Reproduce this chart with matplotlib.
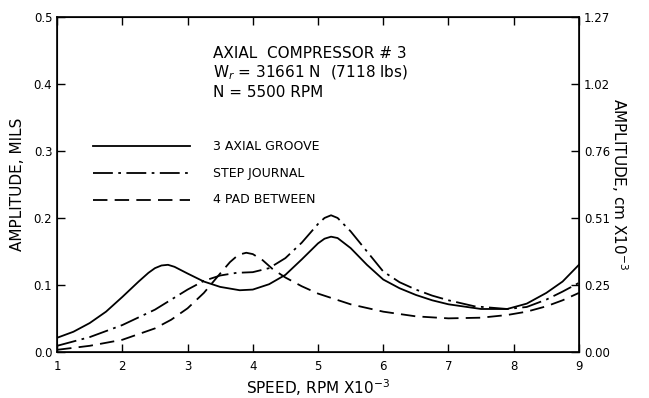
import matplotlib
matplotlib.use("Agg")
import matplotlib.pyplot as plt

plt.rcParams['font.family'] = ['DejaVu Sans']

# speed (RPM x 10^-3) and amplitude (mils)
groove_x = [1.0, 1.25, 1.5, 1.75, 2.0, 2.25, 2.4, 2.5, 2.6, 2.7, 2.8, 3.0, 3.25, 3.5,
            3.8, 4.0, 4.25, 4.5, 4.75, 5.0, 5.1, 5.2, 5.3, 5.5, 5.75, 6.0, 6.25, 6.5,
            6.75, 7.0, 7.5, 7.9, 8.2, 8.5, 8.75, 9.0]
groove_y = [0.021, 0.030, 0.043, 0.060, 0.082, 0.105, 0.118, 0.125, 0.129, 0.130, 0.127,
            0.117, 0.105, 0.097, 0.092, 0.093, 0.101, 0.115, 0.138, 0.162, 0.169, 0.172,
            0.170, 0.155, 0.130, 0.108, 0.095, 0.085, 0.077, 0.071, 0.064, 0.064, 0.072,
            0.088, 0.105, 0.130]

step_x = [1.0, 1.5, 2.0, 2.5, 2.75, 3.0, 3.25, 3.5, 3.75, 4.0, 4.25, 4.5, 4.75, 5.0,
          5.1, 5.2, 5.3, 5.5, 5.75, 6.0, 6.25, 6.5, 6.75, 7.0, 7.4, 7.9, 8.2, 8.5, 8.75,
          9.0]
step_y = [0.009, 0.022, 0.040, 0.063, 0.078, 0.093, 0.106, 0.114, 0.118, 0.119, 0.125,
          0.140, 0.163, 0.191, 0.200, 0.204, 0.200, 0.180, 0.150, 0.120, 0.104, 0.093,
          0.084, 0.077, 0.068, 0.064, 0.067, 0.078, 0.090, 0.103]

pad_x = [1.0, 1.5, 2.0, 2.5, 2.75, 3.0, 3.25, 3.5, 3.65, 3.78, 3.9, 4.0, 4.15, 4.3,
         4.5, 4.75, 5.0, 5.5, 6.0, 6.5, 7.0, 7.5, 7.9, 8.2, 8.5, 8.75, 9.0]
pad_y = [0.003, 0.009, 0.018, 0.035, 0.048, 0.065, 0.088, 0.117, 0.134, 0.145, 0.148,
         0.146, 0.137, 0.124, 0.111, 0.098, 0.087, 0.071, 0.060, 0.053, 0.050, 0.051,
         0.055, 0.060, 0.068, 0.077, 0.088]

left_ticks = [0.0, 0.1, 0.2, 0.3, 0.4, 0.5]
left_labels = ["0.0", "0.1", "0.2", "0.3", "0.4", "0.5"]
right_labels = ["0.00", "0.25", "0.51", "0.76", "1.02", "1.27"]
x_ticks = [1, 2, 3, 4, 5, 6, 7, 8, 9]

legend_names = ["3 AXIAL GROOVE", "STEP JOURNAL", "4 PAD BETWEEN"]

fig = plt.figure(figsize=(6.49, 3.98), dpi=100)
ax = fig.add_axes([0.088, 0.116, 0.804, 0.841])

dashdot = (0, (11, 3, 1.5, 3))
dashed = (0, (8, 4))
lw = 1.3
ax.plot(groove_x, groove_y, color="black", lw=lw, linestyle="-")
ax.plot(step_x, step_y, color="black", lw=lw, linestyle=dashdot)
ax.plot(pad_x, pad_y, color="black", lw=lw, linestyle=dashed)

ax.set_xlim(1, 9)
ax.set_ylim(0, 0.5)
ax.set_xticks(x_ticks)
ax.set_yticks(left_ticks)
ax.set_yticklabels(left_labels)
ax.tick_params(direction="in", length=6, width=1, labelsize=8.5, top=True)
ax.tick_params(axis="x", pad=6)
for s in ax.spines.values():
    s.set_linewidth(1.2)

ax2 = ax.twinx()
ax2.set_ylim(0, 0.5)
ax2.set_yticks(left_ticks)
ax2.set_yticklabels(right_labels)
ax2.tick_params(direction="in", length=6, width=1, labelsize=8.5)

ax.set_xlabel("SPEED, RPM X10$^{-3}$", fontsize=11, labelpad=3)
ax.set_ylabel("AMPLITUDE, MILS", fontsize=11, labelpad=6)
ax2.set_ylabel("AMPLITUDE, cm X10$^{-3}$", fontsize=11, rotation=-90, labelpad=14)

# annotation block
ax.text(3.39, 0.445, "AXIAL  COMPRESSOR # 3", fontsize=11, va="center")
ax.text(3.39, 0.417, "W$_r$ = 31661 N  (7118 lbs)", fontsize=11, va="center")
ax.text(3.39, 0.388, "N = 5500 RPM", fontsize=11, va="center")

# hand-drawn legend
styles = ["-", dashdot, dashed]
leg_y = [0.307, 0.267, 0.227]
for name, st, yy in zip(legend_names, styles, leg_y):
    ax.plot([1.55, 3.04], [yy, yy], color="black", lw=lw, linestyle=st)
    ax.text(3.39, yy, name, fontsize=9, va="center")

fig.savefig("out.png", dpi=100)
